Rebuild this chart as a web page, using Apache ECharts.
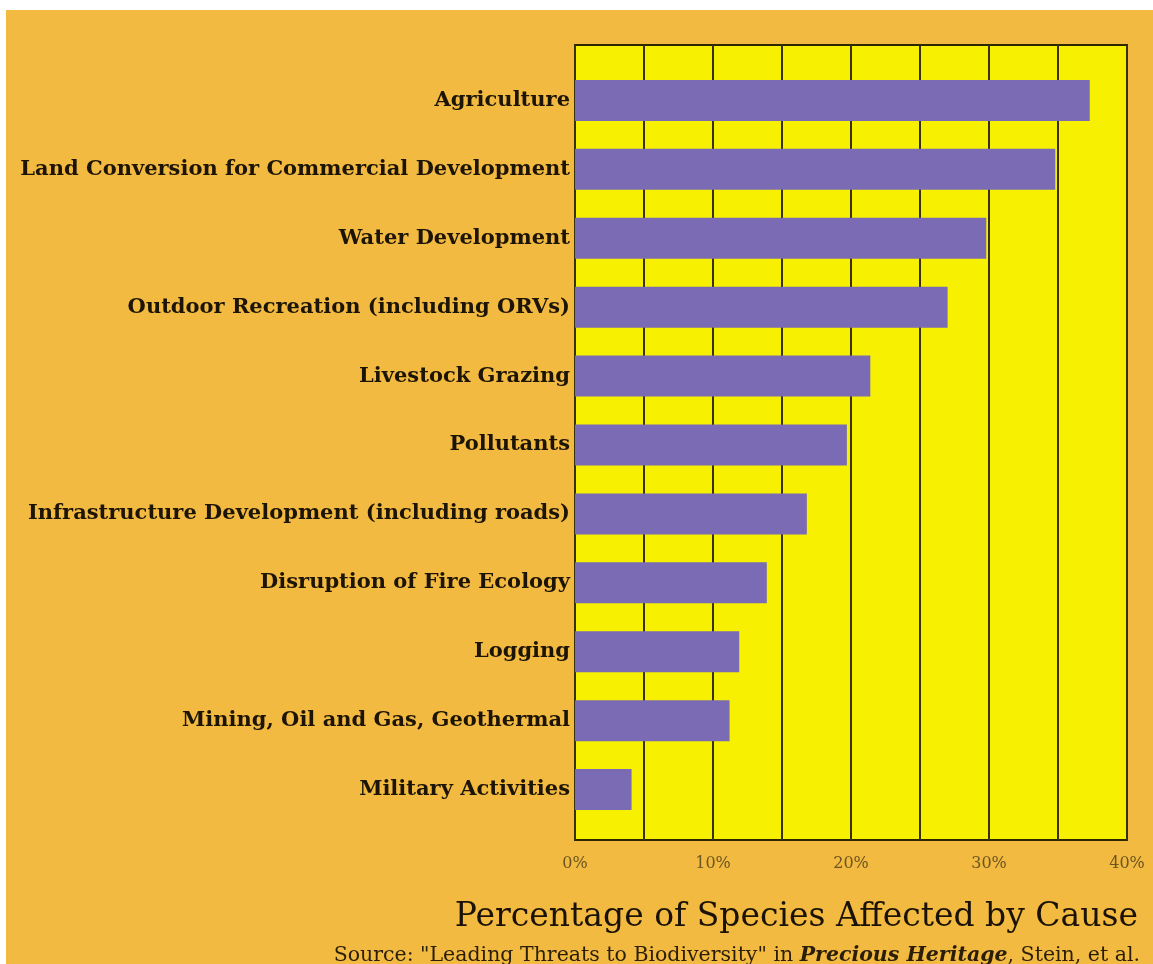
<!DOCTYPE html>
<html>
<head>
<meta charset="utf-8">
<script src="https://cdn.jsdelivr.net/npm/echarts@6/dist/echarts.min.js"></script>
<style>
html,body{margin:0;padding:0;background:#ffffff;}
#chart{position:absolute;left:6px;top:10px;width:1147px;height:954px;}
</style>
</head>
<body>
<div id="chart"></div>
<script>
var categories = [
  "Agriculture",
  "Land Conversion for Commercial Development",
  "Water Development",
  "Outdoor Recreation (including ORVs)",
  "Livestock Grazing",
  "Pollutants",
  "Infrastructure Development (including roads)",
  "Disruption of Fire Ecology",
  "Logging",
  "Mining, Oil and Gas, Geothermal",
  "Military Activities"
];
var values = [37.3, 34.8, 29.8, 27.0, 21.4, 19.7, 16.8, 13.9, 11.9, 11.2, 4.1];
var axisMin = 0, axisMax = 40, axisStep = 5, labelStep = 10;
var titleText = "Percentage of Species Affected by Cause";
var sourcePre = "Source: \"Leading Threats to Biodiversity\" in ";
var sourceBook = "Precious Heritage";
var sourcePost = ", Stein, et al.";

var chart = echarts.init(document.getElementById('chart'));
chart.setOption({
  backgroundColor: '#F3BA41',
  animation: false,
  title: [
    {
      text: titleText,
      right: 10, top: 886,
      textStyle: {fontFamily: 'DejaVu Serif', fontWeight: 'normal', fontSize: 33, color: '#1a1206'}
    },
    {
      text: '{a|' + sourcePre + '}{b|' + sourceBook + '}{a|' + sourcePost + '}',
      right: 8, top: 930,
      textStyle: {
        fontWeight: 'normal',
        rich: {
          a: {fontFamily: 'DejaVu Serif', fontWeight: 'normal', fontSize: 20.5, color: '#2a1e08'},
          b: {fontFamily: 'DejaVu Serif', fontSize: 20.5, fontStyle: 'italic', fontWeight: 'bold', color: '#2a1e08'}
        }
      }
    }
  ],
  grid: [
    {left: 569, right: 26, top: 35, bottom: 124, show: true, backgroundColor: '#F7F000', borderColor: '#2e2600', borderWidth: 2},
    {left: 569, right: 26, top: 56, height: 758}
  ],
  xAxis: [
    {
      type: 'value', gridIndex: 0, min: axisMin, max: axisMax, interval: axisStep,
      axisLine: {show: false}, axisTick: {show: false},
      splitLine: {show: true, lineStyle: {color: '#3a3100', width: 2}},
      axisLabel: {
        margin: 16, fontFamily: 'DejaVu Serif', fontSize: 16, color: '#6b5520',
        formatter: function (v) { return v % labelStep === 0 ? v + '%' : ''; }
      }
    },
    {type: 'value', gridIndex: 1, min: axisMin, max: axisMax, show: false}
  ],
  yAxis: [
    {type: 'value', gridIndex: 0, show: false},
    {
      type: 'category', gridIndex: 1, data: categories, inverse: true,
      axisLine: {show: false}, axisTick: {show: false}, splitLine: {show: false},
      axisLabel: {margin: 5, fontFamily: 'DejaVu Serif', fontWeight: 'bold', fontSize: 21, color: '#1c1405'}
    }
  ],
  series: [
    {
      type: 'bar', xAxisIndex: 1, yAxisIndex: 1, data: values, barWidth: 41,
      itemStyle: {color: '#7A6BB4'}
    }
  ]
});
</script>
</body>
</html>
